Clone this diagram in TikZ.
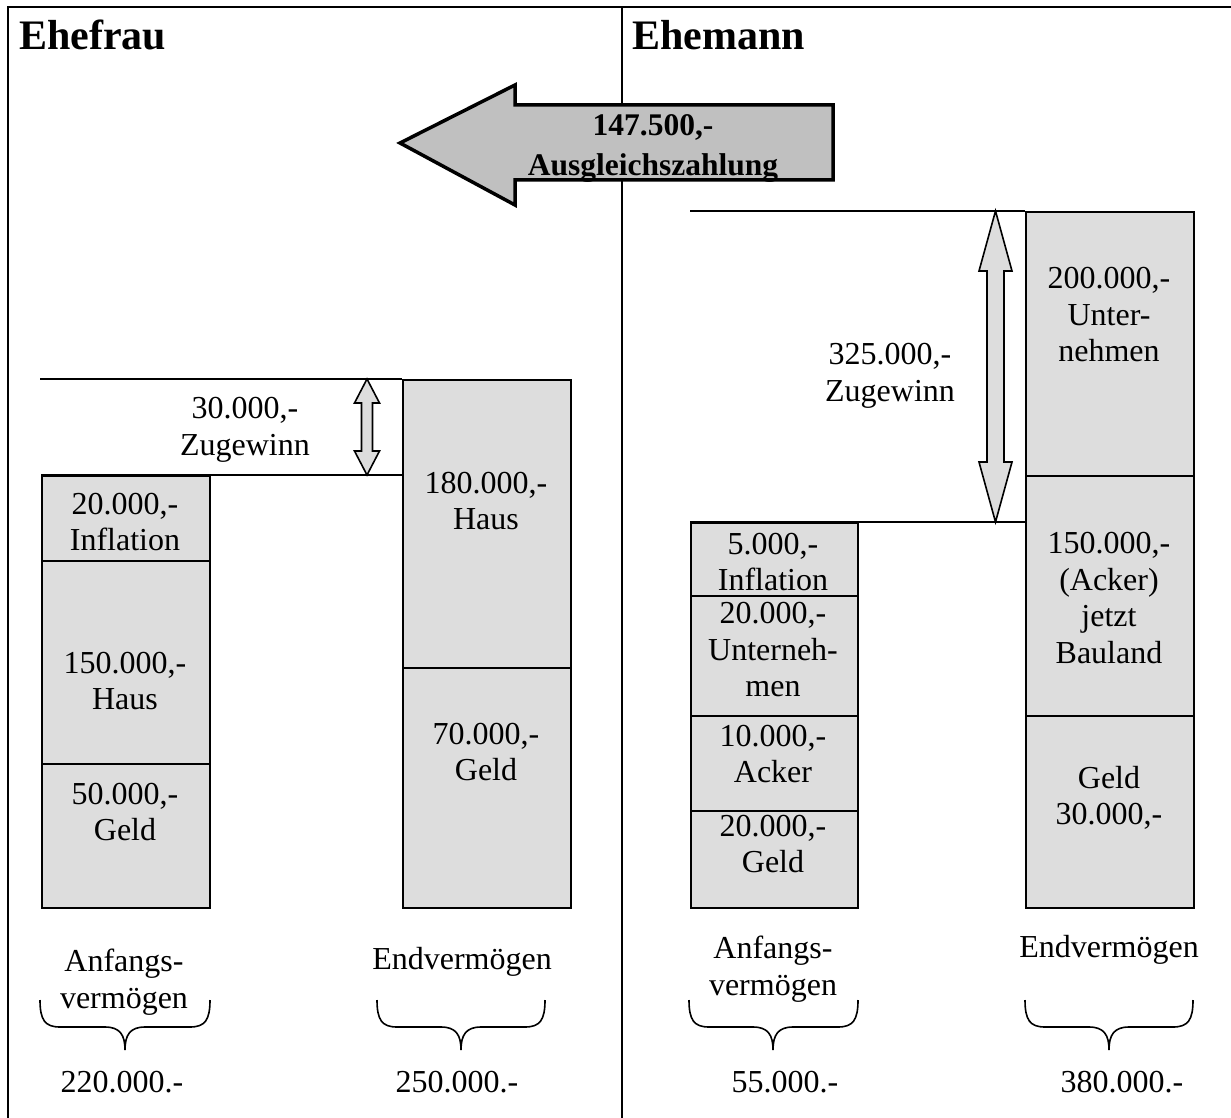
\documentclass[tikz,border=0pt]{standalone}
\usepackage{fontspec}
\setmainfont{Liberation Serif}
\definecolor{boxgray}{HTML}{DDDDDD}
\definecolor{arrowgray}{HTML}{C0C0C0}
\begin{document}
\begin{tikzpicture}[x=1pt,y=-1pt,
  box/.style={draw, line width=1.8pt, fill=boxgray, inner sep=0pt, anchor=north west},
  txt/.style={inner sep=0pt, align=center, font=\fontsize{32}{36.5}\selectfont},
  head/.style={inner sep=0pt, anchor=base west, font=\fontsize{42}{48}\selectfont\bfseries},
  rule/.style={line width=1.8pt},
  dblarrow/.style={draw, line width=1.6pt, fill=boxgray, line join=miter},
  brace/.style={line width=1.6pt}
]
\useasboundingbox (0,0) rectangle (1231,1118);
% frame and divider
\draw[line width=2.4pt] (8,1118) -- (8,7) -- (1231,7);
\draw[line width=2.2pt] (622,7) -- (622,1118);

% headings
\node[head] (ehefrau) at (19,50) {Ehefrau};
\node[head] (ehemann) at (632,50) {Ehemann};

% big arrow
\coordinate (bt) at (400,143);
\draw[line width=3.5pt, fill=arrowgray, line join=miter] (bt) -- (515,85) -- (515,105) -- (833,105) -- (833,180) -- (515,180) -- (515,205) -- cycle;
\node[inner sep=0pt, align=center, font=\fontsize{31.5}{40}\selectfont\bfseries] (ausgl) at (653,149) {147.500,-\\Ausgleichszahlung};

% ---------- Ehefrau ----------
\node[box, minimum width=168, minimum height=85] (fa1) at (41,475) {};
\node[box, minimum width=168, minimum height=203] (fa2) at (41,560) {};
\node[box, minimum width=168, minimum height=144] (fa3) at (41,763) {};
\node[box, minimum width=168, minimum height=288] (fe1) at (402,379) {};
\node[box, minimum width=168, minimum height=240] (fe2) at (402,667) {};

\coordinate (fzt) at (40,379);
\coordinate (fzb) at (41,475);
\draw[rule] (fzt) -- (fe1.north west);
\draw[rule] (fzb) -- (402,475);

\coordinate (zl1) at (367,379);
\coordinate (zl2) at (367,475);
\draw[dblarrow] (zl1) -- ++(12.5,24) -- ++(-7,0) -- ++(0,48) -- ++(7,0) -- (zl2) -- ++(-12.5,-24) -- ++(7,0) -- ++(0,-48) -- ++(-7,0) -- cycle;

\node[txt] (fz) at (245,430) {30.000,-\\Zugewinn};
\node[txt] (fa1t) at (125,522) {20.000,-\\Inflation};
\node[txt] (fa2t) at (125,681) {150.000,-\\Haus};
\node[txt] (fa3t) at (125,812) {50.000,-\\Geld};
\node[txt] (fe1t) at (486,501) {180.000,-\\Haus};
\node[txt] (fe2t) at (486,752) {70.000,-\\Geld};

\node[txt] (fal) at (124,982) {Anfangs-\\vermögen};
\node[txt] (fel) at (462,962) {Endvermögen};
\draw[brace] (40,1000) .. controls (40,1020) and (45,1027) .. (60,1027) -- (105,1027) .. controls (120,1027) and (125,1035) .. (125,1050) .. controls (125,1035) and (130,1027) .. (145,1027) -- (190,1027) .. controls (205,1027) and (210,1020) .. (210,1000);
\draw[brace] (377,1000) .. controls (377,1020) and (382,1027) .. (397,1027) -- (441,1027) .. controls (456,1027) and (461,1035) .. (461,1050) .. controls (461,1035) and (466,1027) .. (481,1027) -- (525,1027) .. controls (540,1027) and (545,1020) .. (545,1000);
\node[txt] (fan) at (122,1082) {220.000.-};
\node[txt] (fen) at (457,1082) {250.000.-};

% ---------- Ehemann ----------
\node[box, minimum width=167, minimum height=73] (ma1) at (690,522) {};
\node[box, minimum width=167, minimum height=120] (ma2) at (690,595) {};
\node[box, minimum width=167, minimum height=95] (ma3) at (690,715) {};
\node[box, minimum width=167, minimum height=97] (ma4) at (690,810) {};
\node[box, minimum width=168, minimum height=264] (me1) at (1025,211) {};
\node[box, minimum width=168, minimum height=240] (me2) at (1025,475) {};
\node[box, minimum width=168, minimum height=192] (me3) at (1025,715) {};

\coordinate (mzt) at (690,211);
\draw[rule] (mzt) -- (me1.north west);
\draw[rule] (ma1.north west) -- (1025,522);

\coordinate (zr1) at (995.5,211);
\coordinate (zr2) at (995.5,522);
\draw[dblarrow] (zr1) -- ++(16.5,60) -- ++(-8,0) -- ++(0,191) -- ++(8,0) -- (zr2) -- ++(-16.5,-60) -- ++(8,0) -- ++(0,-191) -- ++(-8,0) -- cycle;

\node[txt] (mz) at (890,376) {325.000,-\\Zugewinn};
\node[txt] (me1t) at (1109,315) {200.000,-\\Unter-\\nehmen};
\node[txt] (me2t) at (1109,598) {150.000,-\\(Acker)\\jetzt\\Bauland};
\node[txt] (me3t) at (1109,798) {Geld\\30.000,-};
\node[txt] (ma1t) at (773,562) {5.000,-\\Inflation};
\node[txt] (ma2t) at (773,650) {20.000,-\\Unterneh-\\men};
\node[txt] (ma3t) at (773,754) {10.000,-\\Acker};
\node[txt] (ma4t) at (773,844) {20.000,-\\Geld};

\node[txt] (mal) at (773,969) {Anfangs-\\vermögen};
\node[txt] (mel) at (1109,950) {Endvermögen};
\draw[brace] (689,1000) .. controls (689,1020) and (694,1027) .. (709,1027) -- (753,1027) .. controls (768,1027) and (773,1035) .. (773,1050) .. controls (773,1035) and (778,1027) .. (793,1027) -- (838,1027) .. controls (853,1027) and (858,1020) .. (858,1000);
\draw[brace] (1025,1000) .. controls (1025,1020) and (1030,1027) .. (1045,1027) -- (1089,1027) .. controls (1104,1027) and (1109,1035) .. (1109,1050) .. controls (1109,1035) and (1114,1027) .. (1129,1027) -- (1173,1027) .. controls (1188,1027) and (1193,1020) .. (1193,1000);
\node[txt] (man) at (785,1082) {55.000.-};
\node[txt] (men) at (1122,1082) {380.000.-};
\end{tikzpicture}
\end{document}
